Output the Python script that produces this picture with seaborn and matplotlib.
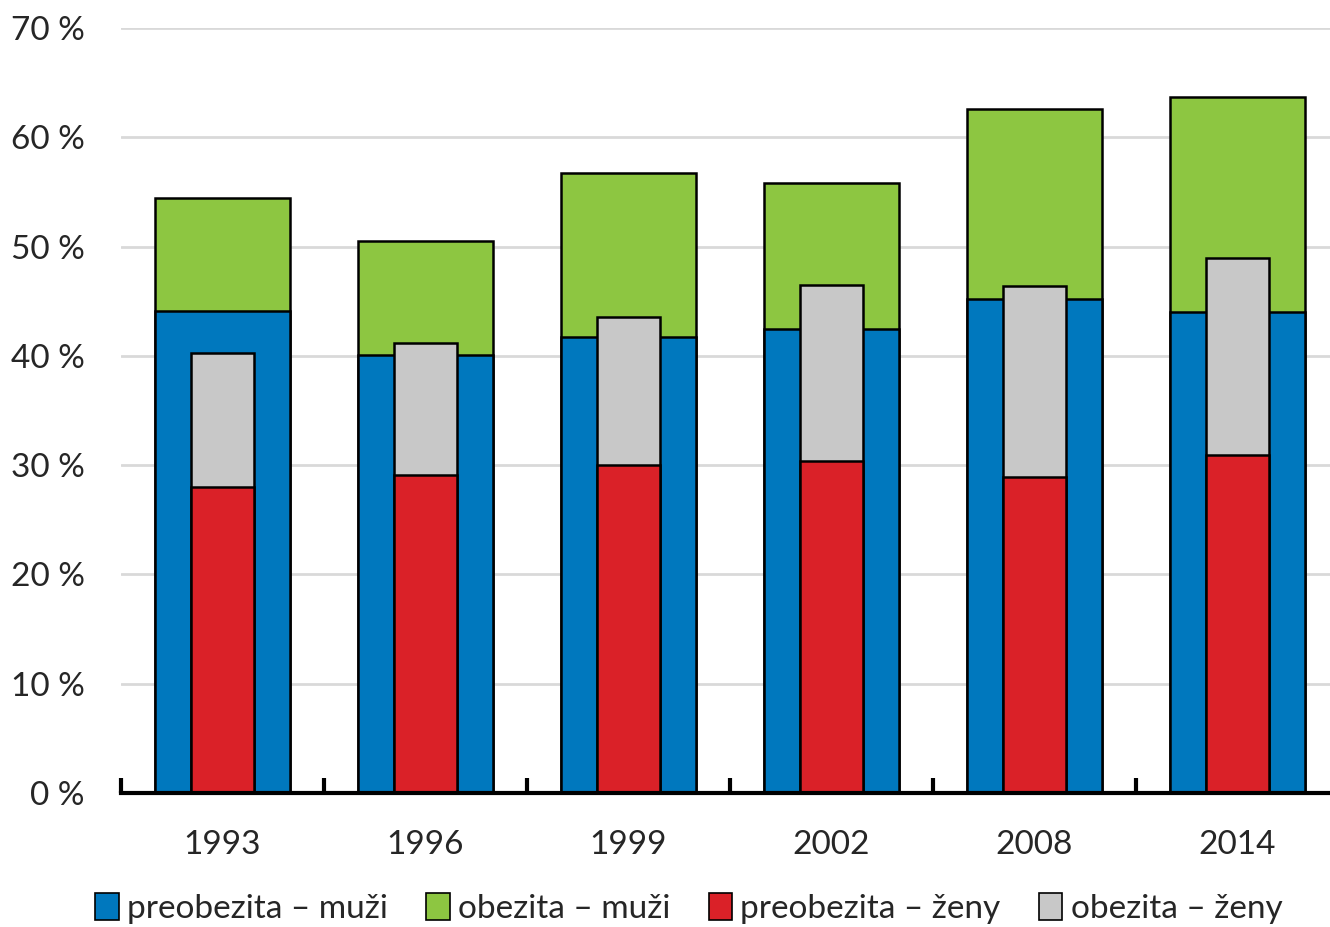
import numpy as np
import pandas as pd
import matplotlib.pyplot as plt
import seaborn as sns
from matplotlib.patches import Patch

# data (percent)
years = ["1993", "1996", "1999", "2002", "2008", "2014"]
preob_muzi = [44.1, 40.1, 41.7, 42.5, 45.2, 44.0]
obez_muzi = [10.3, 10.4, 15.0, 13.3, 17.4, 19.7]
preob_zeny = [28.0, 29.1, 30.0, 30.4, 28.9, 30.9]
obez_zeny = [12.3, 12.1, 13.6, 16.1, 17.5, 18.1]

labels = ["preobezita – muži", "obezita – muži", "preobezita – ženy", "obezita – ženy"]
colors = ["#0078BE", "#8DC641", "#DA2128", "#C8C8C8"]

sns.set_theme(style="white")
plt.rcParams['font.family'] = ['Lato', 'DejaVu Sans']

df = pd.DataFrame({"year": years,
                   "pm": preob_muzi,
                   "om": np.array(preob_muzi) + np.array(obez_muzi),
                   "pz": preob_zeny,
                   "oz": np.array(preob_zeny) + np.array(obez_zeny)})

fig = plt.figure(figsize=(13.30, 9.27), dpi=100)
ax = fig.add_axes([121 / 1330, 134 / 927, 1218 / 1330, 765 / 927])

ax.yaxis.grid(True, color="#D9D9D9", linewidth=2)
ax.set_axisbelow(True)

# outer bars (men), totals first then the lower part on top
for col, c in [("om", colors[1]), ("pm", colors[0])]:
    sns.barplot(data=df, x="year", y=col, color=c, width=0.665, saturation=1,
                edgecolor="black", linewidth=1.8, ax=ax, zorder=2)
# inner bars (women)
for col, c in [("oz", colors[3]), ("pz", colors[2])]:
    sns.barplot(data=df, x="year", y=col, color=c, width=0.315, saturation=1,
                edgecolor="black", linewidth=1.8, ax=ax, zorder=3)

ax.set_ylim(0, 70)
ax.set_xlim(-0.5, 5.5)
ax.set_yticks(range(0, 71, 10))
ax.set_yticklabels([f"{v} %" for v in range(0, 71, 10)], fontsize=24)
ax.tick_params(axis="y", length=0, pad=26)

# category boundary ticks pointing up, labels at centres
ax.set_xticks(np.arange(-0.5, 6, 1.0))
ax.set_xticklabels([])
ax.set_xticks(range(len(years)), minor=True)
ax.set_xticklabels(years, minor=True, fontsize=24)
ax.tick_params(axis="x", which="major", direction="in", length=11, width=3, color="black", bottom=True)
ax.tick_params(axis="x", which="minor", length=0, pad=27)

ax.set_xlabel("")
ax.set_ylabel("")
for s in ["top", "right", "left"]:
    ax.spines[s].set_visible(False)
ax.spines["bottom"].set_linewidth(3)
ax.spines["bottom"].set_color("black")
ax.spines["bottom"].set_zorder(5)

handles = [Patch(facecolor=c, edgecolor="black", linewidth=1.2) for c in colors]
fig.legend(handles, labels, loc="center", bbox_to_anchor=(0.518, 0.02), ncol=4,
           frameon=False, fontsize=24, handlelength=0.7, handleheight=0.85,
           handletextpad=0.25, columnspacing=1.15)

fig.savefig("out.png", dpi=100)
